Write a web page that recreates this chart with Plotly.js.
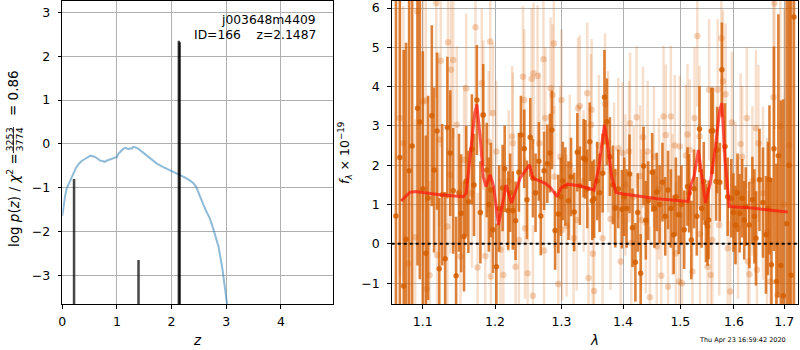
<!DOCTYPE html>
<html><head><meta charset="utf-8">
<script src="https://cdn.plot.ly/plotly-3.0.1.min.js"></script>
<style>html,body{margin:0;padding:0;background:#fff}#chart{width:800px;height:350px}</style>
</head><body><div id="chart"></div>
<script>
// ---- left panel: redshift probability ----
const pzZ = [0.0,0.02,0.05,0.08,0.12,0.17,0.21,0.25,0.30,0.355,0.42,0.47,0.52,0.57,0.60,0.65,0.69,0.73,0.78,0.82,0.87,0.92,0.97,1.00,1.03,1.07,1.12,1.16,1.21,1.24,1.27,1.30,1.34,1.39,1.45,1.55,1.65,1.73,1.85,1.97,2.08,2.16,2.25,2.34,2.40,2.45,2.52,2.58,2.64,2.70,2.77,2.86,2.93,3.00,3.02];
const pzLogP = [-1.65,-1.42,-1.2,-1.02,-0.9,-0.76,-0.64,-0.55,-0.46,-0.39,-0.34,-0.3,-0.27,-0.29,-0.3,-0.34,-0.38,-0.39,-0.41,-0.38,-0.36,-0.34,-0.31,-0.3,-0.22,-0.17,-0.11,-0.09,-0.12,-0.1,-0.11,-0.07,-0.08,-0.11,-0.17,-0.26,-0.36,-0.45,-0.53,-0.6,-0.67,-0.71,-0.77,-0.84,-0.9,-0.98,-1.21,-1.38,-1.55,-1.7,-1.97,-2.35,-2.85,-3.55,-3.7];
const peakZ = [0.215,1.395,2.133,2.148];
const peakLogP = [-0.8,-2.65,2.35,2.32];

// ---- right panel: spectrum ----
const darkWave = [1.065,1.070,1.075,1.078,1.082,1.086,1.093,1.096,1.100,1.104,
1.107,1.112,1.115,1.119,1.122,1.126,1.130,1.133,1.137,1.141,
1.145,1.149,1.152,1.156,1.159,1.162,1.167,1.170,1.174,1.179,
1.183,1.188,1.191,1.194,1.197,1.202,1.206,1.211,1.214,1.219,
1.222,1.226,1.230,1.235,1.238,1.243,1.247,1.252,1.256,1.260,
1.265,1.268,1.273,1.278,1.282,1.285,1.290,1.295,1.299,1.302,
1.306,1.311,1.315,1.320,1.325,1.329,1.335,1.338,1.341,1.345,
1.349,1.352,1.357,1.361,1.366,1.369,1.373,1.378,1.383,1.387,
1.392,1.398,1.402,1.406,1.411,1.416,1.421,1.425,1.430,1.435,
1.439,1.443,1.450,1.454,1.458,1.463,1.468,1.473,1.478,1.483,
1.488,1.492,1.497,1.502,1.507,1.513,1.516,1.520,1.525,1.530,
1.535,1.539,1.543,1.547,1.550,1.552,1.557,1.560,1.566,1.568,
1.573,1.577,1.583,1.588,1.595,1.599,1.603,1.607,1.611,1.616,
1.620,1.623,1.630,1.636,1.640,1.643,1.650,1.657,1.663,1.667,
1.670,1.674,1.679,1.684,1.688,1.693,1.698,1.705,1.710,1.714,
1.720];
const darkFlux = [0.71,2.2,-1.07,0.12,1.86,2.49,3.45,3.1,1.4,-0.24,
1.17,3.26,1.88,2.87,-0.63,1.25,-0.38,2.96,2.31,1.35,
-0.81,1.3,0.78,0.19,1.6,1.07,2.41,1.5,3.66,0.8,
3.28,1.88,1.0,1.37,0.36,-0.58,0.9,1.42,1.91,0.85,
1.3,0.85,0.59,1.82,2.77,2.42,1.12,2.71,1.67,1.3,
2.1,0.71,1.86,2.04,2.31,2.9,0.34,0.76,1.2,1.6,
1.46,1.1,1.7,0.81,2.33,1.48,2.18,2.15,1.4,2.6,
1.1,1.15,1.6,1.3,1.8,3.73,3.11,2.22,1.5,0.91,
1.4,0.88,1.2,0.9,1.78,0.41,-0.47,0.8,-0.75,1.98,
0.6,1.1,1.82,0.9,1.32,1.0,1.57,0.7,1.37,0.9,
0.23,1.2,0.74,1.0,0.36,1.46,1.29,0.1,1.4,0.7,
2.92,0.9,1.59,0.53,0.44,0.61,2.87,2.88,1.59,2.39,
1.57,4.43,2.48,1.2,1.16,0.8,0.48,1.3,0.78,1.16,
0.6,0.95,0.48,1.12,0.7,0.14,1.63,1.05,0.23,0.9,
1.63,-0.53,2.42,-0.96,2.24,-0.55,-1.32,0.51,2.0,-0.8,
5.77];
const darkErr = [6,6,6,5,5,4.5,4,4,3.5,3,
2.6,2.3,2.1,2.0,1.8,1.8,1.7,1.8,1.6,1.6,
1.5,1.5,1.5,1.4,1.4,1.3,1.4,1.3,1.4,1.3,
1.3,1.2,1.2,1.2,1.1,1.1,1.1,1.1,1.1,1.0,
1.0,1.0,1.0,1.0,1.0,1.0,1.0,1.0,1.0,1.0,
1.0,1.0,1.0,1.0,1.0,1.0,1.0,1.0,1.0,1.0,
1.0,1.0,1.0,1.0,1.0,1.0,1.0,1.0,1.0,1.0,
1.0,1.0,1.0,1.0,1.0,1.2,1.1,1.0,1.0,1.0,
1.0,1.0,1.0,1.0,1.0,1.0,1.0,1.0,1.0,1.0,
1.0,1.0,1.0,1.0,1.0,1.0,1.0,1.0,1.0,1.0,
1.0,1.0,1.0,1.0,1.0,1.0,1.0,1.0,1.0,1.0,
1.1,1.0,1.0,1.0,1.0,1.0,1.1,1.1,1.0,1.1,
1.0,1.2,1.1,1.0,1.0,1.0,1.0,1.0,1.0,1.0,
1.0,1.0,1.1,1.1,1.2,1.2,1.3,1.4,1.5,1.7,
1.9,2.2,2.6,3.0,3.6,4.2,5,6,7,8,
8];

const lightWave = [1.070,1.0745,1.081,1.090,1.093,1.100,1.104,1.105,1.109,1.118,
1.119,1.122,1.124,1.133,1.134,1.137,1.138,1.141,1.146,1.151,
1.156,1.159,1.167,1.172,1.175,1.181,1.183,1.186,1.191,1.193,
1.194,1.197,1.202,1.208,1.212,1.220,1.225,1.226,1.230,1.235,
1.241,1.243,1.244,1.248,1.254,1.256,1.257,1.263,1.266,1.272,
1.273,1.275,1.283,1.286,1.288,1.289,1.295,1.298,1.300,1.301,
1.308,1.313,1.319,1.324,1.326,1.329,1.335,1.341,1.343,1.347,
1.348,1.350,1.352,1.360,1.366,1.370,1.375,1.379,1.385,1.392,
1.396,1.399,1.404,1.410,1.412,1.414,1.418,1.423,1.429,1.431,
1.434,1.439,1.442,1.446,1.453,1.458,1.462,1.466,1.470,1.474,
1.478,1.483,1.486,1.490,1.492,1.498,1.499,1.503,1.510,1.513,
1.517,1.522,1.526,1.531,1.535,1.536,1.550,1.553,1.556,1.559,
1.569,1.572,1.576,1.579,1.584,1.588,1.593,1.596,1.603,1.608,
1.613,1.616,1.625,1.627,1.630,1.636,1.643,1.645,1.648,1.657,
1.665,1.672,1.678,1.680,1.686,1.692,1.700,1.710];
const lightFlux = [3.2,2.56,-0.5,0.17,5.91,3.62,3.65,-1.15,-0.8,6.12,
-0.28,2.65,4.66,0.44,5.13,1.76,4.43,4.68,3.03,-0.32,
2.14,3.96,1.29,5.51,-0.6,4.09,3.28,-0.31,2.6,5.15,
-0.83,3.33,2.35,-0.15,-0.79,1.6,2.73,2.56,-0.58,0.1,
4.25,3.66,0.4,-0.75,4.2,-1.32,4.34,4.27,2.56,4.7,
-0.17,3.2,3.96,3.79,5.1,1.71,-1.02,2.22,3.66,0.36,
0.46,2.0,0.14,0.61,3.45,3.51,1.6,3.83,-0.87,3.03,
3.41,-0.25,-1.2,2.5,0.14,3.56,2.6,0.63,1.8,2.43,
-0.45,2.31,1.5,2.35,3.07,0.02,1.2,3.22,1.73,0.61,
2.71,0.54,2.35,-1.36,2.22,-0.07,1.4,-0.81,3.24,2.77,
-1.09,3.24,1.0,2.5,-0.24,-0.96,2.48,-1.0,2.25,2.78,
2.39,-0.7,3.2,5.29,2.73,0.25,-0.58,3.92,-0.79,0.1,
3.92,0.48,5.23,4.14,3.81,-0.11,-1.21,3.09,1.3,0.4,
2.54,2.22,3.2,-0.45,-0.77,1.6,2.94,-0.66,2.56,1.29,
0.3,-0.96,3.73,6.12,-1.3,3.0,1.0,2.5];
const lightErr = [4,3.5,3.5,3,3,2.8,2.6,2.6,2.4,2.4,
2.2,2.2,2.2,2.0,2.2,2.0,2.0,2.0,2.0,1.9,
1.9,1.9,1.9,2.0,1.9,1.9,1.9,1.8,1.8,1.9,
1.8,1.8,1.8,1.8,1.8,1.8,1.8,1.8,1.8,1.8,
1.8,1.8,1.8,1.8,1.8,1.8,1.8,1.8,1.8,1.8,
1.8,1.8,1.8,1.8,1.8,1.8,1.8,1.8,1.8,1.8,
1.8,1.8,1.8,1.8,1.8,1.8,1.8,1.8,1.8,1.8,
1.8,1.8,1.8,1.8,1.8,1.8,1.8,1.8,1.8,1.8,
1.8,1.8,1.8,1.8,1.8,1.8,1.8,1.8,1.8,1.8,
1.8,1.8,1.8,1.8,1.8,1.8,1.8,1.8,1.8,1.8,
1.8,1.8,1.8,1.8,1.8,1.8,1.8,1.8,1.8,1.8,
1.8,1.8,1.8,1.8,1.8,1.8,1.8,1.8,1.8,1.8,
1.8,1.8,1.8,1.8,1.8,1.8,1.8,1.8,1.8,1.8,
1.8,1.8,1.8,1.8,1.8,1.9,2.0,2.0,2.0,2.2,
2.4,2.6,3,3.2,3.5,4,5,6];

const modelWave = [1.0715,1.083,1.090,1.123,1.155,1.159,1.165,1.171,1.174,1.179,1.183,1.187,1.193,1.198,1.205,1.216,1.224,1.237,1.251,1.256,1.265,1.275,1.283,1.293,1.299,1.309,1.328,1.352,1.360,1.369,1.374,1.381,1.388,1.401,1.459,1.514,1.520,1.525,1.533,1.539,1.546,1.555,1.565,1.573,1.577,1.583,1.591,1.636,1.694,1.707];
const modelFlux = [1.09,1.31,1.33,1.25,1.2,1.29,2.31,3.33,3.55,2.65,1.71,1.46,1.76,1.46,0.48,1.5,1.04,1.68,2.01,1.67,1.61,1.54,1.43,1.2,1.42,1.52,1.48,1.37,1.97,3.03,2.56,1.71,1.31,1.27,1.15,1.08,1.54,1.71,2.39,1.71,1.04,1.54,2.48,3.41,3.58,2.14,0.95,0.91,0.82,0.81];

const zTicks = [0,1,2,3,4];
const logpTicks = [-3,-2,-1,0,1,2,3];
const waveTicks = [1.1,1.2,1.3,1.4,1.5,1.6,1.7];
const waveTickText = ['1.1','1.2','1.3','1.4','1.5','1.6','1.7'];
const fluxTicks = [-1,0,1,2,3,4,5,6];

const W = 800, H = 350;
const px = v => v / W, py = v => 1 - v / H;
const leftYRange = [-3.655, 3.26];
const rightYRange = [-1.53, 6.18];

const peakX = [], peakY = [];
peakZ.forEach((z, i) => { peakX.push(z, z, null); peakY.push(leftYRange[0], peakLogP[i], null); });

const orange = 'rgba(213,94,0,';
const traces = [
  {x: pzZ, y: pzLogP, xaxis: 'x', yaxis: 'y', mode: 'lines', line: {color: 'rgba(31,119,180,0.5)', width: 2}, hoverinfo: 'skip'},
  {x: peakX, y: peakY, xaxis: 'x', yaxis: 'y', mode: 'lines', line: {color: 'rgba(0,0,0,0.72)', width: 2.5}, hoverinfo: 'skip'},
  {x: lightWave, y: lightFlux, xaxis: 'x2', yaxis: 'y2', mode: 'markers', marker: {color: orange + '0.27)', size: 6.5},
   error_y: {type: 'data', array: lightErr, visible: true, color: orange + '0.2)', thickness: 2.5, width: 0}},
  {x: darkWave, y: darkFlux, xaxis: 'x2', yaxis: 'y2', mode: 'markers', marker: {color: orange + '0.85)', size: 5.5},
   error_y: {type: 'data', array: darkErr, visible: true, color: orange + '0.78)', thickness: 2.6, width: 0}},
  {x: modelWave, y: modelFlux, xaxis: 'x2', yaxis: 'y2', mode: 'lines', line: {color: 'rgba(255,20,10,0.7)', width: 3}}
];

const axisCommon = {
  showline: true, linecolor: 'black', linewidth: 1, mirror: true,
  ticks: 'outside', ticklen: 3.5, tickwidth: 1, tickcolor: 'black',
  showgrid: true, gridcolor: '#b0b0b0', gridwidth: 1, zeroline: false,
  tickfont: {family: 'DejaVu Sans', size: 12.5, color: 'black'}
};
const yDom = [py(304), py(1)];

const layout = {
  width: W, height: H, margin: {l: 0, r: 0, t: 0, b: 0},
  paper_bgcolor: 'white', plot_bgcolor: 'white', showlegend: false,
  font: {family: 'DejaVu Sans', size: 12.5, color: 'black'},
  xaxis: Object.assign({}, axisCommon, {domain: [px(62.3), px(333.3)], range: [0, 4.96], tickvals: zTicks, anchor: 'y', ticklabelstandoff: 2}),
  yaxis: Object.assign({}, axisCommon, {domain: yDom, range: leftYRange, tickvals: logpTicks, anchor: 'x', ticklabelstandoff: 5}),
  xaxis2: Object.assign({}, axisCommon, {type: 'log', domain: [px(391.7), px(798.3)], range: [0.02512, 0.2378], tickvals: waveTicks, ticktext: waveTickText, anchor: 'y2', ticklabelstandoff: 2}),
  yaxis2: Object.assign({}, axisCommon, {domain: yDom, range: rightYRange, tickvals: fluxTicks, anchor: 'x2', ticklabelstandoff: 5}),
  shapes: [
    {type: 'line', xref: 'x2 domain', yref: 'y2', x0: 0, x1: 1, y0: 0, y1: 0, line: {color: 'black', width: 2, dash: 'dot'}},
    {type: 'line', xref: 'paper', yref: 'paper', x0: px(13.5), x1: px(13.5), y0: py(127), y1: py(153), line: {color: 'black', width: 0.8}}
  ],
  annotations: [
    {xref: 'paper', yref: 'paper', x: px(318), y: py(20), xanchor: 'right', yanchor: 'middle', showarrow: false, text: 'j003648m4409', font: {size: 12.3}},
    {xref: 'paper', yref: 'paper', x: px(318), y: py(35), xanchor: 'right', yanchor: 'middle', showarrow: false, text: 'ID=166\u00a0\u00a0\u00a0\u00a0z=2.1487', font: {size: 12.3}},
    {xref: 'paper', yref: 'paper', x: px(197), y: py(340), xanchor: 'center', yanchor: 'middle', showarrow: false, text: '<i>z</i>', font: {size: 13.5}},
    {xref: 'paper', yref: 'paper', x: px(594), y: py(340), xanchor: 'center', yanchor: 'middle', showarrow: false, text: '<i>λ</i>', font: {size: 13.5}},
    {xref: 'paper', yref: 'paper', x: px(13), y: py(200), xanchor: 'center', yanchor: 'middle', textangle: -90, showarrow: false, text: 'log <i>p</i>(<i>z</i>) / <i>χ</i><sup>2</sup> =', font: {size: 13.5}},
    {xref: 'paper', yref: 'paper', x: px(8.5), y: py(140), xanchor: 'center', yanchor: 'middle', textangle: -90, showarrow: false, text: '3253', font: {size: 9.5}},
    {xref: 'paper', yref: 'paper', x: px(18.5), y: py(140), xanchor: 'center', yanchor: 'middle', textangle: -90, showarrow: false, text: '3774', font: {size: 9.5}},
    {xref: 'paper', yref: 'paper', x: px(13), y: py(93), xanchor: 'center', yanchor: 'middle', textangle: -90, showarrow: false, text: '= 0.86', font: {size: 13.5}},
    {xref: 'paper', yref: 'paper', x: px(345), y: py(153), xanchor: 'center', yanchor: 'middle', textangle: -90, showarrow: false, text: '<i>f</i><sub><i>λ</i></sub> × 10<sup>−19</sup>', font: {size: 12.5}},
    {xref: 'paper', yref: 'paper', x: px(742), y: py(340), xanchor: 'center', yanchor: 'middle', showarrow: false, text: 'Thu Apr 23 16:59:42 2020', font: {size: 6.5}}
  ]
};

Plotly.newPlot('chart', traces, layout, {displayModeBar: false, staticPlot: true});
</script></body></html>
